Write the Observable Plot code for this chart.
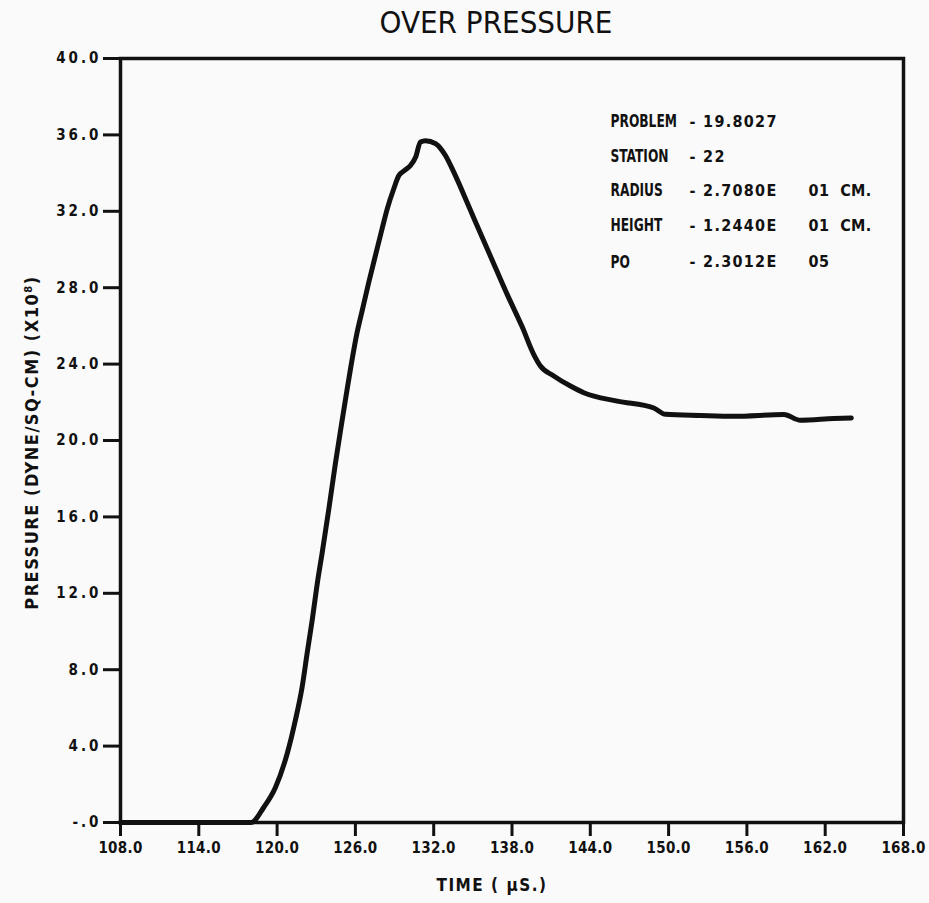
<!DOCTYPE html>
<html>
<head>
<meta charset="utf-8">
<script src="https://cdn.jsdelivr.net/npm/d3@7"></script>
<script src="https://cdn.jsdelivr.net/npm/@observablehq/plot@0.6"></script>
<style>
  html, body { margin: 0; padding: 0; background: #fafafa; }
  #chart svg { display: block; }
</style>
</head>
<body>
<div id="chart"></div>
<script>
// ---- data ----
const time = [108, 118.0, 118.98, 119.88, 120.77, 121.4, 121.92, 122.3, 122.69, 123.12, 123.45, 123.96, 124.48, 124.9, 125.3, 125.62, 126.13, 126.52, 127.03, 127.54, 128.05, 128.44, 128.94, 129.33, 129.8, 130.22, 130.61, 130.99, 131.37, 132.14, 132.52, 132.9, 133.54, 134.57, 135.07, 136.35, 137.63, 138.78, 139.67, 140.18, 141.2, 142.48, 143.5, 146.06, 148.87, 149.76, 152.44, 155.0, 158.83, 160.1, 162.66, 164.0];
const pressure = [0, 0, 0.8, 1.85, 3.6, 5.35, 7.1, 8.85, 10.6, 12.7, 14.1, 16.4, 18.85, 20.7, 22.4, 23.73, 25.65, 26.8, 28.3, 29.7, 31.1, 32.13, 33.18, 33.87, 34.15, 34.4, 34.83, 35.63, 35.7, 35.54, 35.3, 34.92, 34.05, 32.45, 31.65, 29.65, 27.65, 25.95, 24.5, 23.9, 23.38, 22.85, 22.5, 22.06, 21.7, 21.37, 21.31, 21.27, 21.36, 21.06, 21.15, 21.18];

const xTicks = [108, 114, 120, 126, 132, 138, 144, 150, 156, 162, 168];
const xTickLabels = ["108.0", "114.0", "120.0", "126.0", "132.0", "138.0", "144.0", "150.0", "156.0", "162.0", "168.0"];
const yTicks = [0, 4, 8, 12, 16, 20, 24, 28, 32, 36, 40];
const yTickLabels = ["-.0", "4.0", "8.0", "12.0", "16.0", "20.0", "24.0", "28.0", "32.0", "36.0", "40.0"];

const titleText = "OVER PRESSURE";
const xLabel = "TIME ( \u00b5S.)";
const yLabel = "PRESSURE (DYNE/SQ-CM) (X10\u2078)";

// annotation block (anchored in data coordinates)
const annotY = [36.69, 34.86, 33.07, 31.23, 29.34];
const annotNames = ["PROBLEM", "STATION", "RADIUS", "HEIGHT", "PO"];
const annotValues = ["- 19.8027", "- 22", "- 2.7080E", "- 1.2440E", "- 2.3012E"];
const annotExtra = ["", "", "01  CM.", "01  CM.", "05"];
const annotCols = [145.55, 151.6, 160.72];

const curve = time.map((t, i) => ({t, p: pressure[i]}));
const annot = annotY.map((y, i) => ({y, name: annotNames[i], value: annotValues[i], extra: annotExtra[i]}));

const FONT = "'DejaVu Sans Condensed', 'Liberation Sans Narrow', 'DejaVu Sans', sans-serif";
const INK = "#111";

const chart = Plot.plot({
  width: 929,
  height: 903,
  marginLeft: 120,
  marginRight: 26,
  marginTop: 58,
  marginBottom: 81,
  style: {background: "#fafafa", fontFamily: FONT, fontStretch: "condensed", color: INK},
  x: {domain: [108, 168]},
  y: {domain: [0, 40]},
  marks: [
    Plot.axisY({
      ticks: yTicks, tickFormat: (d, i) => yTickLabels[i],
      tickSize: 17, tickPadding: 2, strokeWidth: 3, stroke: INK,
      fontSize: 15, fontWeight: "bold", fill: INK, label: null
    }),
    Plot.axisX({
      ticks: xTicks, tickFormat: (d, i) => xTickLabels[i],
      tickSize: 14, tickPadding: 6, strokeWidth: 3, stroke: INK,
      fontSize: 15, fontWeight: "bold", fill: INK, label: null
    }),
    Plot.frame({stroke: INK, strokeWidth: 3.5}),
    Plot.line(curve, {x: "t", y: "p", stroke: INK, strokeWidth: 5, curve: "monotone-x", strokeLinejoin: "round", strokeLinecap: "round"}),
    // title
    Plot.text([titleText], {frameAnchor: "top", dx: -16, dy: -35, fontSize: 31, fill: INK, lineAnchor: "middle"}),
    // axis labels
    Plot.text([xLabel], {frameAnchor: "bottom", dx: -20, dy: 63, fontSize: 17, fontWeight: "bold", fill: INK, lineAnchor: "middle", className: "xlab"}),
    Plot.text([yLabel], {frameAnchor: "left", dx: -88, dy: 2, rotate: -90, textAnchor: "middle", fontSize: 18, fontWeight: "bold", fill: INK, lineAnchor: "middle", className: "ylab"}),
    // annotation block
    Plot.text(annot, {x: () => annotCols[0], y: "y", text: "name", textAnchor: "start", fontSize: 17, fontWeight: "bold", fill: INK, className: "annot-name"}),
    Plot.text(annot, {x: () => annotCols[1], y: "y", text: "value", textAnchor: "start", fontSize: 16, fontWeight: "bold", fill: INK, className: "annot-value"}),
    Plot.text(annot, {x: () => annotCols[2], y: "y", text: "extra", textAnchor: "start", fontSize: 16, fontWeight: "bold", fill: INK, className: "annot-extra"})
  ]
});

const svg = d3.select(chart);
svg.selectAll('g[aria-label="y-axis tick label"] text').attr("letter-spacing", "3");
svg.selectAll('g[aria-label="x-axis tick label"] text').attr("letter-spacing", "0.3");
svg.selectAll('text').style("white-space", "pre");
svg.selectAll('.ylab text').attr("letter-spacing", "1.5");
svg.selectAll('.xlab text').attr("letter-spacing", "1.5");
svg.selectAll('.annot-value text').attr("letter-spacing", "1.3");
svg.selectAll('.annot-extra text').attr("letter-spacing", "0.4");
// plotter lettering is tall and narrow: squeeze the names horizontally
svg.selectAll('.annot-name text').each(function () {
  const t = this.getAttribute("transform") || "";
  this.setAttribute("transform", t + " scale(0.8,1)");
});

document.getElementById("chart").appendChild(chart);
</script>
</body>
</html>
